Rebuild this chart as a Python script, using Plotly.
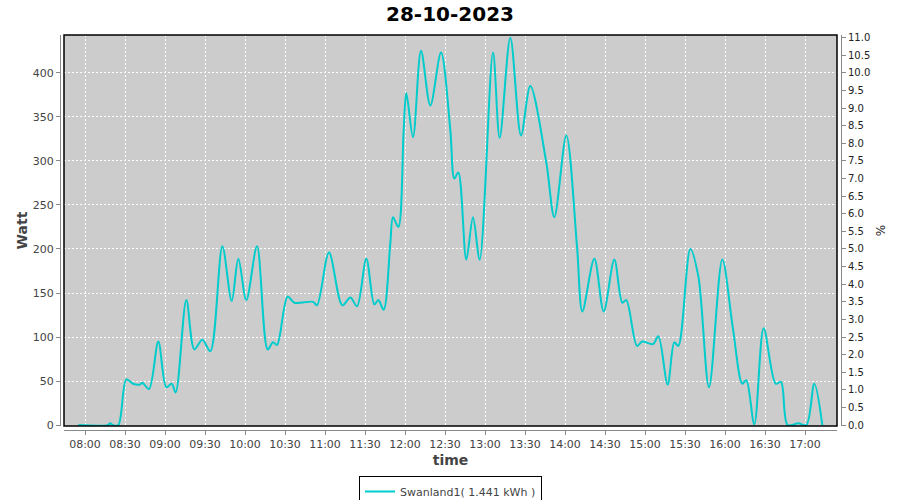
import plotly.graph_objects as go

DAY = "2023-10-28 "
times = ["07:55", "08:17", "08:19", "08:21", "08:25", "08:31", "08:36", "08:41", "08:43", "08:48",
         "08:55", "09:01", "09:05", "09:08", "09:16", "09:22", "09:28", "09:34", "09:43", "09:50",
         "09:55", "10:01", "10:09", "10:17", "10:21", "10:24", "10:32", "10:37", "10:51", "10:54",
         "11:03", "11:13", "11:19", "11:24", "11:31", "11:37", "11:40", "11:44", "11:49", "11:51",
         "11:55", "11:59", "12:01", "12:06", "12:12", "12:19", "12:27", "12:34", "12:37", "12:40",
         "12:46", "12:51", "12:56", "13:06", "13:11", "13:19", "13:27", "13:34", "13:46", "13:52",
         "14:01", "14:09", "14:13", "14:22", "14:29", "14:37", "14:43", "14:46", "14:54", "14:58",
         "15:06", "15:10", "15:17", "15:22", "15:25", "15:34", "15:40", "15:48", "15:58", "16:06",
         "16:13", "16:16", "16:22", "16:29", "16:38", "16:42", "16:47", "16:55", "17:01", "17:07",
         "17:13"]
watts = [0, 0, 2, 0, 0, 52, 47, 46, 48, 41,
         95, 43, 47, 37, 142, 86, 97, 84, 203, 141,
         189, 142, 203, 86, 94, 91, 146, 139, 140, 136,
         196, 136, 145, 135, 189, 137, 142, 131, 207, 236,
         225, 335, 377, 327, 425, 363, 423, 335, 280, 287,
         188, 236, 188, 423, 326, 440, 329, 385, 298, 236,
         329, 203, 129, 189, 129, 188, 139, 142, 90, 95,
         92, 101, 46, 94, 90, 200, 169, 43, 188, 109,
         47, 51, 1, 110, 47, 49, 0, 2, 0, 47,
         0]

series_name = "Swanland1( 1.441 kWh )"
title_text = "28-10-2023"
left_range = [-1, 443]
right_range = [-0.025, 11.075]

x_vals = [DAY + t for t in times]

FONT = "DejaVu Sans"
TICK_COLOR = "#444444"
AXIS_LINE = "#888888"

fig = go.Figure()
fig.add_trace(go.Scatter(
    x=x_vals, y=watts, mode="lines", name=series_name,
    line=dict(color="#00CCCC", width=2, shape="spline", smoothing=0.9),
))
# invisible trace to register the right axis
fig.add_trace(go.Scatter(
    x=[x_vals[0]], y=[0], yaxis="y2", mode="markers",
    marker=dict(opacity=0), showlegend=False, hoverinfo="skip",
))

W, H = 900, 500
ml, mr, mt, mb = 60, 59, 35, 70
pw = W - ml - mr
ph = H - mt - mb
off = 4

fig.update_layout(
    width=W, height=H,
    margin=dict(l=ml, r=mr, t=mt, b=mb, autoexpand=False),
    paper_bgcolor="white",
    plot_bgcolor="#CCCCCC",
    title=dict(text=title_text, x=0.5, xanchor="center", y=1 - 14 / H, yanchor="middle",
               font=dict(family=FONT, size=20, color="black", weight="bold")),
    showlegend=True,
    legend=dict(orientation="h", x=0.5, xanchor="center", y=(0 - 46) / ph, yanchor="top",
                bordercolor="black", borderwidth=1, bgcolor="white", itemwidth=30,
                font=dict(family=FONT, size=11, color=TICK_COLOR)),
    xaxis=dict(
        type="date", domain=[off / pw, 1 - off / pw],
        range=[DAY + "07:44:15", DAY + "17:24"],
        tick0=DAY + "08:00", dtick=30 * 60 * 1000, tickformat="%H:%M",
        anchor="free", position=0, automargin=False,
        showline=True, linecolor=AXIS_LINE, linewidth=1,
        ticks="outside", ticklen=4, tickcolor=AXIS_LINE,
        tickfont=dict(family=FONT, size=11, color=TICK_COLOR),
        showgrid=True, gridcolor="white", griddash="2px,2px", gridwidth=1,
        zeroline=False,
        title=dict(text="time", standoff=4,
                   font=dict(family=FONT, size=14, color=TICK_COLOR, weight="bold")),
    ),
    yaxis=dict(
        domain=[off / ph, 1],
        range=left_range, tick0=0, dtick=50,
        anchor="free", position=0, automargin=False,
        showline=True, linecolor=AXIS_LINE, linewidth=1,
        ticks="outside", ticklen=4, tickcolor=AXIS_LINE,
        tickfont=dict(family=FONT, size=11, color=TICK_COLOR),
        showgrid=True, gridcolor="white", griddash="2px,2px", gridwidth=1,
        zeroline=False,
        title=dict(text="Watt", standoff=0,
                   font=dict(family=FONT, size=14, color=TICK_COLOR, weight="bold")),
    ),
    yaxis2=dict(
        overlaying="y", side="right",
        range=right_range, tick0=0, dtick=0.5, tickformat=".1f",
        anchor="free", position=1, automargin=False,
        showline=True, linecolor=AXIS_LINE, linewidth=1,
        ticks="outside", ticklen=4, tickcolor=AXIS_LINE,
        tickfont=dict(family=FONT, size=10, color="#222222"),
        showgrid=False, zeroline=False,
        title=dict(text="%", standoff=7,
                   font=dict(family=FONT, size=12, color="#222222")),
    ),
    shapes=[dict(type="rect", xref="x domain", yref="y domain", x0=0, x1=1, y0=0, y1=1,
                 line=dict(color="black", width=1.5), fillcolor="rgba(0,0,0,0)", layer="above")],
)

fig.write_html("out.html", config={"displayModeBar": False},
               post_script="document.body.style.margin='0';document.body.style.padding='0';")
